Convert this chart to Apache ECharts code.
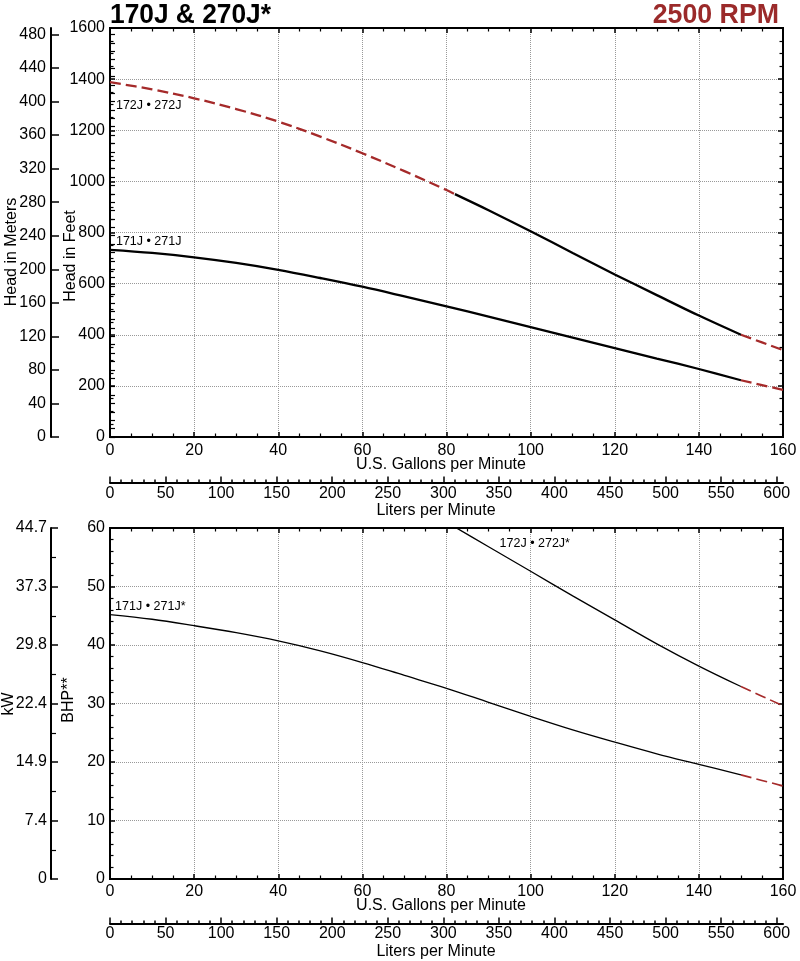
<!DOCTYPE html>
<html><head><meta charset="utf-8">
<script src="https://cdn.jsdelivr.net/npm/echarts@6/dist/echarts.min.js"></script>
<style>html,body{margin:0;padding:0;background:#fff}#c{width:800px;height:961px}</style>
</head><body><div id="c"></div>
<script>
// ---- data ----
const head171Gpm = [0,10,20,30,40,50,60,70,80,90,100,110,120,130,140,150,160];
const head171Ft  = [732,720,703,681,654,622,588,550,511,471,430,389,348,307,266,222,184];
const head172Gpm = [0,10,20,30,40,50,60,70,80,82,90,100,110,120,130,140,150,160];
const head172Ft  = [1388,1360,1325,1283,1234,1175,1110,1040,966,950,887,805,720,636,555,475,400,340];
const bhp171Gpm  = [0,10,20,30,40,50,60,70,80,90,100,110,120,130,140,150,160];
const bhp171     = [45.2,44.4,43.3,42.1,40.7,39.0,37.0,34.8,32.6,30.2,27.8,25.5,23.4,21.4,19.6,17.8,15.9];
const bhp172Gpm  = [80,90,100,110,120,130,140,150,160];
const bhp172     = [61.0,56.8,52.6,48.4,44.3,40.2,36.4,32.9,29.6];
// solid (rated) ranges of each curve, dashed outside
const head171Solid = [0,150];
const head172Solid = [82,150];
const bhp171Solid  = [0,150];
const bhp172Solid  = [0,150];
// tick labels
const meterTicks = [0,40,80,120,160,200,240,280,320,360,400,440,480];
const literTicks = [0,50,100,150,200,250,300,350,400,450,500,550,600];
const kwTickLabels = ['0','7.4','14.9','22.4','29.8','37.3','44.7'];
const curveLabels = {top172:'172J • 272J', top171:'171J • 271J', bot171:'171J • 271J*', bot172:'172J • 272J*'};

const GPM_MAX = 160, FT_MAX = 1600, BHP_MAX = 60;
const LPM_MAX = GPM_MAX * 3.78541;
const M_MAX = FT_MAX * 0.3048;
const meterMinor = []; for (let v = 0; v <= 480; v += 10) meterMinor.push(v);
const literMinor = []; for (let v = 0; v <= 600; v += 10) literMinor.push(v);

const FONT = "'Liberation Sans', Arial, Helvetica, sans-serif";
const RED = '#A52A2A';
const plain = function(v){ return String(v); };

function seg(xs, ys, lo, hi) {
  const out = [];
  for (let i = 0; i < xs.length; i++) if (xs[i] >= lo && xs[i] <= hi) out.push([xs[i], ys[i]]);
  return out;
}
function line(data, xi, yi, dashed, w, extra) {
  return Object.assign({
    type:'line', xAxisIndex:xi, yAxisIndex:yi, data:data, smooth:0.35, showSymbol:false,
    symbol:'none', silent:true, animation:false, clip:true,
    lineStyle: dashed ? {color:RED, width:w, type:[11,5]} : {color:'#000', width:w, type:'solid'}
  }, extra || {});
}
function labelMark(text, coord) {
  return { symbol:'circle', symbolSize:0.1, silent:true, itemStyle:{color:'rgba(0,0,0,0)'},
    data:[{coord:coord, label:{show:true, position:'right', distance:0, formatter:text,
      fontSize:12.5, color:'#000', fontFamily:FONT}}] };
}

function gpmAxis(grid, pos, labels, margin) {
  return {type:'value', gridIndex:grid, position:pos, min:0, max:GPM_MAX, interval:20,
    axisLine:{show:true, onZero:false, lineStyle:{color:'#000', width:2}},
    axisTick:{show:true, inside:true, length:5, lineStyle:{color:'#000', width:1.5}},
    minorTick:{show:true, splitNumber:4, length:3.5, lineStyle:{color:'#000', width:1.2}},
    axisLabel:{show:labels, fontSize:16, color:'#000', margin:margin, fontFamily:FONT, hideOverlap:false, formatter:plain},
    splitLine:{show:labels, lineStyle:{color:'#999', type:'dotted', width:1}},
    minorSplitLine:{show:false}};
}
function literAxis(grid, offset, major, margin) {
  return {type:'value', gridIndex:grid, position:'bottom', offset:offset, min:0, max:LPM_MAX, interval:50,
    axisLine:{show:major, onZero:false, lineStyle:{color:'#000', width:2}},
    axisTick:{show:true, inside:true, length: major ? 6.5 : 3.5, customValues: major ? literTicks : literMinor,
      lineStyle:{color:'#000', width:1.5}},
    axisLabel:{show:major, customValues: literTicks, fontSize:16, color:'#000', margin:margin, fontFamily:FONT, hideOverlap:false, formatter:plain},
    splitLine:{show:false}};
}
function valAxis(grid, pos, max, interval, minorSplit, labels, extra) {
  return Object.assign({type:'value', gridIndex:grid, position:pos, min:0, max:max, interval:interval,
    axisLine:{show:true, onZero:false, lineStyle:{color:'#000', width:2}},
    axisTick:{show:true, inside:true, length:5, lineStyle:{color:'#000', width:1.5}},
    minorTick:{show:true, splitNumber:minorSplit, length:3.5, lineStyle:{color:'#000', width:1.2}},
    axisLabel:{show:labels, fontSize:16, color:'#000', margin:5, fontFamily:FONT, hideOverlap:false, formatter:plain},
    splitLine:{show:labels, lineStyle:{color:'#999', type:'dotted', width:1}},
    minorSplitLine:{show:false}}, extra || {});
}

const chart = echarts.init(document.getElementById('c'), null, {renderer:'canvas'});
const option = {
  animation:false,
  backgroundColor:'#fff',
  grid:[
    {left:110, top:28, width:673, height:409, show:true, borderColor:'#000', borderWidth:2, backgroundColor:'transparent'},
    {left:110, top:528, width:673, height:351, show:true, borderColor:'#000', borderWidth:2, backgroundColor:'transparent'}
  ],
  xAxis:[
    gpmAxis(0,'bottom',true,6),
    gpmAxis(0,'top',false,6),
    literAxis(0,46,true,3),
    literAxis(0,46,false,3),
    gpmAxis(1,'bottom',true,5),
    gpmAxis(1,'top',false,5),
    literAxis(1,45,true,2),
    literAxis(1,45,false,2)
  ],
  yAxis:[
    valAxis(0,'left',FT_MAX,200,4,true),
    valAxis(0,'right',FT_MAX,200,4,false),
    {type:'value', gridIndex:0, position:'left', offset:59, min:0, max:M_MAX, interval:40,
      axisLine:{show:true, onZero:false, lineStyle:{color:'#000', width:2}},
      axisTick:{show:true, inside:true, length:8, customValues:meterTicks, lineStyle:{color:'#000', width:1.5}},
      axisLabel:{show:true, customValues:meterTicks, fontSize:16, color:'#000', margin:5, fontFamily:FONT, hideOverlap:false, formatter:plain},
      splitLine:{show:false}},
    {type:'value', gridIndex:0, position:'left', offset:59, min:0, max:M_MAX, interval:40,
      axisLine:{show:false},
      axisTick:{show:true, inside:true, length:5, customValues:meterMinor, lineStyle:{color:'#000', width:1.2}},
      axisLabel:{show:false}, splitLine:{show:false}},
    valAxis(1,'left',BHP_MAX,10,5,true),
    valAxis(1,'right',BHP_MAX,10,5,false),
    valAxis(1,'left',BHP_MAX,10,2,true,{offset:59,
      axisTick:{show:true, inside:true, length:7, lineStyle:{color:'#000', width:1.5}},
      minorTick:{show:true, splitNumber:2, length:5, lineStyle:{color:'#000', width:1.2}},
      axisLabel:{show:true, fontSize:16, color:'#000', margin:4, fontFamily:FONT, hideOverlap:false,
        formatter:function(v){ return kwTickLabels[Math.round(v/10)] || ''; }},
      splitLine:{show:false}})
  ],
  series:[
    line(seg(head171Gpm, head171Ft, head171Solid[0], head171Solid[1]),0,0,false,2.3,
      {markPoint: labelMark(curveLabels.top171,[1.4,764])}),
    line(seg(head171Gpm, head171Ft, head171Solid[1], GPM_MAX),0,0,true,2.3),
    line(seg(head172Gpm, head172Ft, 0, head172Solid[0]),0,0,true,2.3,
      {markPoint: labelMark(curveLabels.top172,[1.4,1295])}),
    line(seg(head172Gpm, head172Ft, head172Solid[0], head172Solid[1]),0,0,false,2.3),
    line(seg(head172Gpm, head172Ft, head172Solid[1], GPM_MAX),0,0,true,2.3),
    line(seg(bhp171Gpm, bhp171, bhp171Solid[0], bhp171Solid[1]),4,4,false,1.3,
      {markPoint: labelMark(curveLabels.bot171,[1.2,46.6])}),
    line(seg(bhp171Gpm, bhp171, bhp171Solid[1], GPM_MAX),4,4,true,1.6),
    line(seg(bhp172Gpm, bhp172, bhp172Solid[0], bhp172Solid[1]),4,4,false,1.3,
      {markPoint: labelMark(curveLabels.bot172,[92.6,57.4])}),
    line(seg(bhp172Gpm, bhp172, bhp172Solid[1], GPM_MAX),4,4,true,1.6)
  ],
  graphic:[
    {type:'text', x:110, y:15, scaleX:0.94, style:{x:0, y:0, text:'170J & 270J*', fontSize:28, fontWeight:'bold',
      fontFamily:FONT, fill:'#000', textAlign:'left', textVerticalAlign:'middle'}},
    {type:'text', x:779, y:15, scaleX:0.955, style:{x:0, y:0, text:'2500 RPM', fontSize:28, fontWeight:'bold',
      fontFamily:FONT, fill:'#9B2A2A', textAlign:'right', textVerticalAlign:'middle'}},
    {type:'text', x:12, y:252, rotation:Math.PI/2, style:{text:'Head in Meters', fontSize:16, fontFamily:FONT, fill:'#000', textAlign:'center', textVerticalAlign:'middle'}},
    {type:'text', x:71, y:256, rotation:Math.PI/2, style:{text:'Head in Feet', fontSize:16, fontFamily:FONT, fill:'#000', textAlign:'center', textVerticalAlign:'middle'}},
    {type:'text', x:441, y:465, style:{text:'U.S. Gallons per Minute', fontSize:16, fontFamily:FONT, fill:'#000', textAlign:'center', textVerticalAlign:'middle'}},
    {type:'text', x:436, y:511, style:{text:'Liters per Minute', fontSize:16, fontFamily:FONT, fill:'#000', textAlign:'center', textVerticalAlign:'middle'}},
    {type:'text', x:9, y:704, rotation:Math.PI/2, style:{text:'kW', fontSize:16, fontFamily:FONT, fill:'#000', textAlign:'center', textVerticalAlign:'middle'}},
    {type:'text', x:69, y:700, rotation:Math.PI/2, style:{text:'BHP**', fontSize:16, fontFamily:FONT, fill:'#000', textAlign:'center', textVerticalAlign:'middle'}},
    {type:'text', x:441, y:906, style:{text:'U.S. Gallons per Minute', fontSize:16, fontFamily:FONT, fill:'#000', textAlign:'center', textVerticalAlign:'middle'}},
    {type:'text', x:436, y:952, style:{text:'Liters per Minute', fontSize:16, fontFamily:FONT, fill:'#000', textAlign:'center', textVerticalAlign:'middle'}}
  ]
};
chart.setOption(option);
</script>
</body></html>
